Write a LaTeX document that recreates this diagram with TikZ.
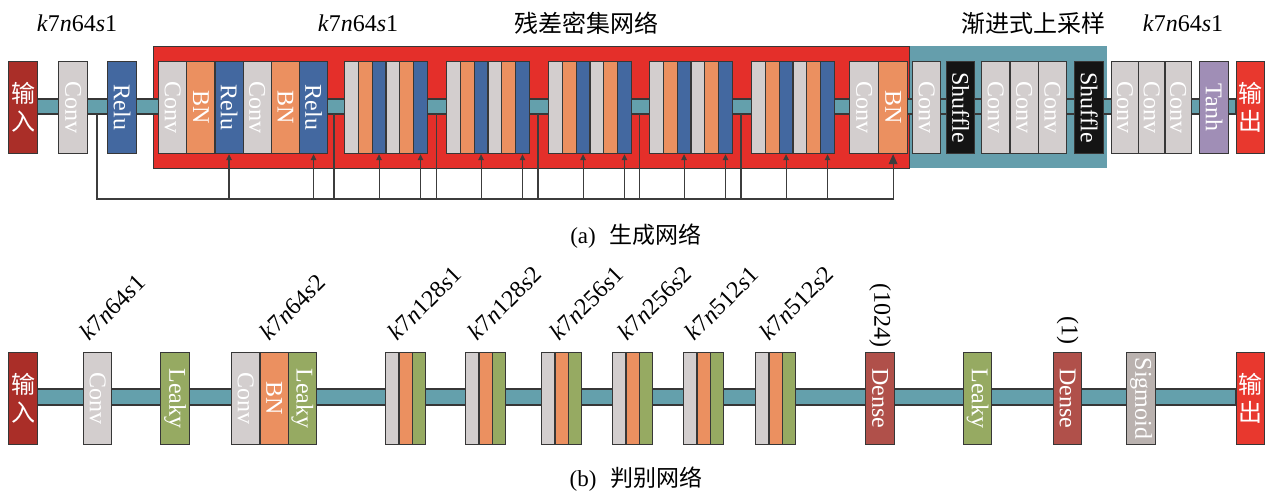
\documentclass[tikz,border=0pt]{standalone}
\usepackage{fontspec}
\setmainfont{Liberation Serif}
\newfontfamily\cjk{Noto Sans CJK SC}
\usetikzlibrary{arrows.meta,calc}

\definecolor{inred}{RGB}{170,46,40}
\definecolor{outred}{RGB}{232,56,46}
\definecolor{gry}{RGB}{211,206,206}
\definecolor{blu}{RGB}{67,104,160}
\definecolor{org}{RGB}{235,144,96}
\definecolor{rdnred}{RGB}{228,47,42}
\definecolor{upteal}{RGB}{101,158,172}
\definecolor{barc}{RGB}{100,160,172}
\definecolor{shk}{RGB}{20,20,20}
\definecolor{purp}{RGB}{160,142,182}
\definecolor{grn}{RGB}{150,170,98}
\definecolor{dns}{RGB}{176,80,74}
\definecolor{sgm}{RGB}{186,178,175}
\definecolor{edge}{RGB}{55,55,55}
\definecolor{wirec}{RGB}{60,60,60}

% vertical text inside a layer
\newcommand\vt[1]{\rotatebox{-90}{#1}}
% two stacked CJK characters
\newcommand\stk[2]{{\cjk #1}\\{\cjk #2}}
% kernel / filters / stride tag
\newcommand\kns[3]{\textit{k}#1\textit{n}#2\textit{s}#3}
% layer box: name, left x, right x, top y, fill, text
\newcommand\lyr[6]{\node[lyr,fill=#5,minimum width={(#3-#2)*0.5pt}] (#1) at (#2,#4) {#6};}

\begin{document}
\begin{tikzpicture}[x=0.5pt,y=-0.5pt,
  lyr/.style={draw=edge,line width=0.6pt,inner sep=0pt,minimum height=46pt,
    anchor=north west,text=white,align=center,font=\fontsize{12}{14}\selectfont},
  region/.style={inner sep=0pt,anchor=north west,minimum height=61pt},
  band/.style={fill=barc,draw=edge,line width=0.6pt},
  wire/.style={draw=wirec,line width=0.55pt},
  tip/.style={-{Triangle[length=3pt,width=2.8pt]}},
  bigtip/.style={-{Triangle[length=5pt,width=4.4pt]}},
  tag/.style={inner sep=0pt,font=\fontsize{12}{14}\selectfont},
  captxt/.style={inner sep=0pt,font=\fontsize{11.5}{14}\selectfont}]
\useasboundingbox (0,0) rectangle (1266,493);

%% ---------------- generator ----------------
\node[region,fill=upteal,minimum width=99pt] (up) at (909,46) {};
\node[region,fill=rdnred,draw=edge,line width=0.6pt,minimum width=378pt] (rdn) at (153,46) {};

\coordinate (bL) at (37,99);
\coordinate (bR) at (1236,114);
\filldraw[band] (bL) rectangle (bR);

\lyr{in1}{8}{37}{61}{inred}{\stk{输}{入}}
\lyr{conv1}{58}{87}{61}{gry}{\vt{Conv}}
\lyr{relu1}{107}{136}{61}{blu}{\vt{Relu}}

% first dense block, labelled
\foreach \i/\c/\t in {0/gry/Conv,1/org/BN,2/blu/Relu,3/gry/Conv,4/org/BN,5/blu/Relu}{
  \pgfmathsetmacro\xa{158+\i*28.17}
  \lyr{d1-\i}{\xa}{\xa+28.17}{61}{\c}{\vt{\t}}
}
% further dense blocks
\foreach \k/\bx in {2/344,3/446,4/548,5/649,6/751}{
  \foreach \i/\c in {0/gry,1/org,2/blu,3/gry,4/org,5/blu}{
    \pgfmathsetmacro\xa{\bx+\i*13.8}
    \lyr{d\k-\i}{\xa}{\xa+13.8}{61}{\c}{}
  }
}
\lyr{fconv}{849}{878}{61}{gry}{\vt{Conv}}
\lyr{fbn}{878}{907}{61}{org}{\vt{BN}}

% progressive upsampling
\lyr{uc1}{912}{940}{61}{gry}{\vt{Conv}}
\lyr{shuf1}{946}{974}{61}{shk}{\vt{Shuffle}}
\lyr{uc2}{981}{1009.3}{61}{gry}{\vt{Conv}}
\lyr{uc3}{1009.3}{1037.7}{61}{gry}{\vt{Conv}}
\lyr{uc4}{1037.7}{1066}{61}{gry}{\vt{Conv}}
\lyr{shuf2}{1074}{1103}{61}{shk}{\vt{Shuffle}}

\lyr{oc1}{1111}{1137.7}{61}{gry}{\vt{Conv}}
\lyr{oc2}{1137.7}{1164.3}{61}{gry}{\vt{Conv}}
\lyr{oc3}{1164.3}{1191}{61}{gry}{\vt{Conv}}
\lyr{tanh}{1199}{1228}{61}{purp}{\vt{Tanh}}
\lyr{out1}{1236}{1264}{61}{outred}{\stk{输}{出}}

% skip and dense connections
\coordinate (bus) at (0,199);
\foreach \n/\x in {0/97,1/334,2/436.5,3/538,4/639.5,5/741}
  \coordinate (tap\n) at (\x,114);
\draw[wire,bigtip] (tap0) |- (fbn.south |- bus) -- (fbn.south);
\foreach \n in {1,...,5}
  \draw[wire] (tap\n) -- (tap\n |- bus);
\foreach \k in {1,...,6}{
  \draw[wire,tip] (d\k-2.south |- bus) -- (d\k-2.south);
  \draw[wire,tip] (d\k-5.south |- bus) -- (d\k-5.south);
}

\node[tag] (g1) at (77,23) {\kns{7}{64}{1}};
\node[tag] (g2) at (358,23) {\kns{7}{64}{1}};
\node[tag] (rdnlab) at (586,23) {\cjk 残差密集网络};
\node[tag] (uplab) at (1033,23) {\cjk 渐进式上采样};
\node[tag] (g3) at (1183,23) {\kns{7}{64}{1}};

\node[captxt] (capa) at (636,236) {(a)\hspace{0.6em}{\cjk 生成网络}};

%% ---------------- discriminator ----------------
\coordinate (cL) at (37,389);
\coordinate (cR) at (1236,405);
\filldraw[band] (cL) rectangle (cR);

\lyr{in2}{8}{37}{352}{inred}{\stk{输}{入}}
\lyr{dc1}{83}{111}{352}{gry}{\vt{Conv}}
\lyr{dl1}{160}{189}{352}{grn}{\vt{Leaky}}
\lyr{dc2}{231}{259.33}{352}{gry}{\vt{Conv}}
\lyr{db2}{259.33}{287.67}{352}{org}{\vt{BN}}
\lyr{dl2}{287.67}{316}{352}{grn}{\vt{Leaky}}
\foreach \k/\bx in {1/385,2/465,3/541,4/612,5/683,6/755}{
  \foreach \i/\c in {0/gry,1/org,2/grn}{
    \pgfmathsetmacro\xa{\bx+\i*13.33}
    \lyr{s\k-\i}{\xa}{\xa+13.33}{352}{\c}{}
  }
}
\lyr{dense1}{865}{894}{352}{dns}{\vt{Dense}}
\lyr{dl3}{963}{991}{352}{grn}{\vt{Leaky}}
\lyr{dense2}{1053}{1081}{352}{dns}{\vt{Dense}}
\lyr{sig}{1126}{1155}{352}{sgm}{\vt{Sigmoid}}
\lyr{out2}{1236}{1264}{352}{outred}{\stk{输}{出}}

\foreach \x/\n/\s [count=\j] in {90/64/1,270/64/2,398/128/1,478/128/2,560/256/1,628/256/2,695/512/1,770/512/2}
  \node[tag,rotate=45,anchor=south west] (t\j) at (\x,342) {\kns{7}{\n}{\s}};

\node[tag,rotate=-90,anchor=east] (u1024) at ([yshift=2pt]dense1.north) {(1024)};
\node[tag,rotate=-90,anchor=east] (u1) at ([yshift=3.5pt]dense2.north) {(1)};

\node[captxt] (capb) at (636,479) {(b)\hspace{0.6em}{\cjk 判别网络}};
\end{tikzpicture}
\end{document}
